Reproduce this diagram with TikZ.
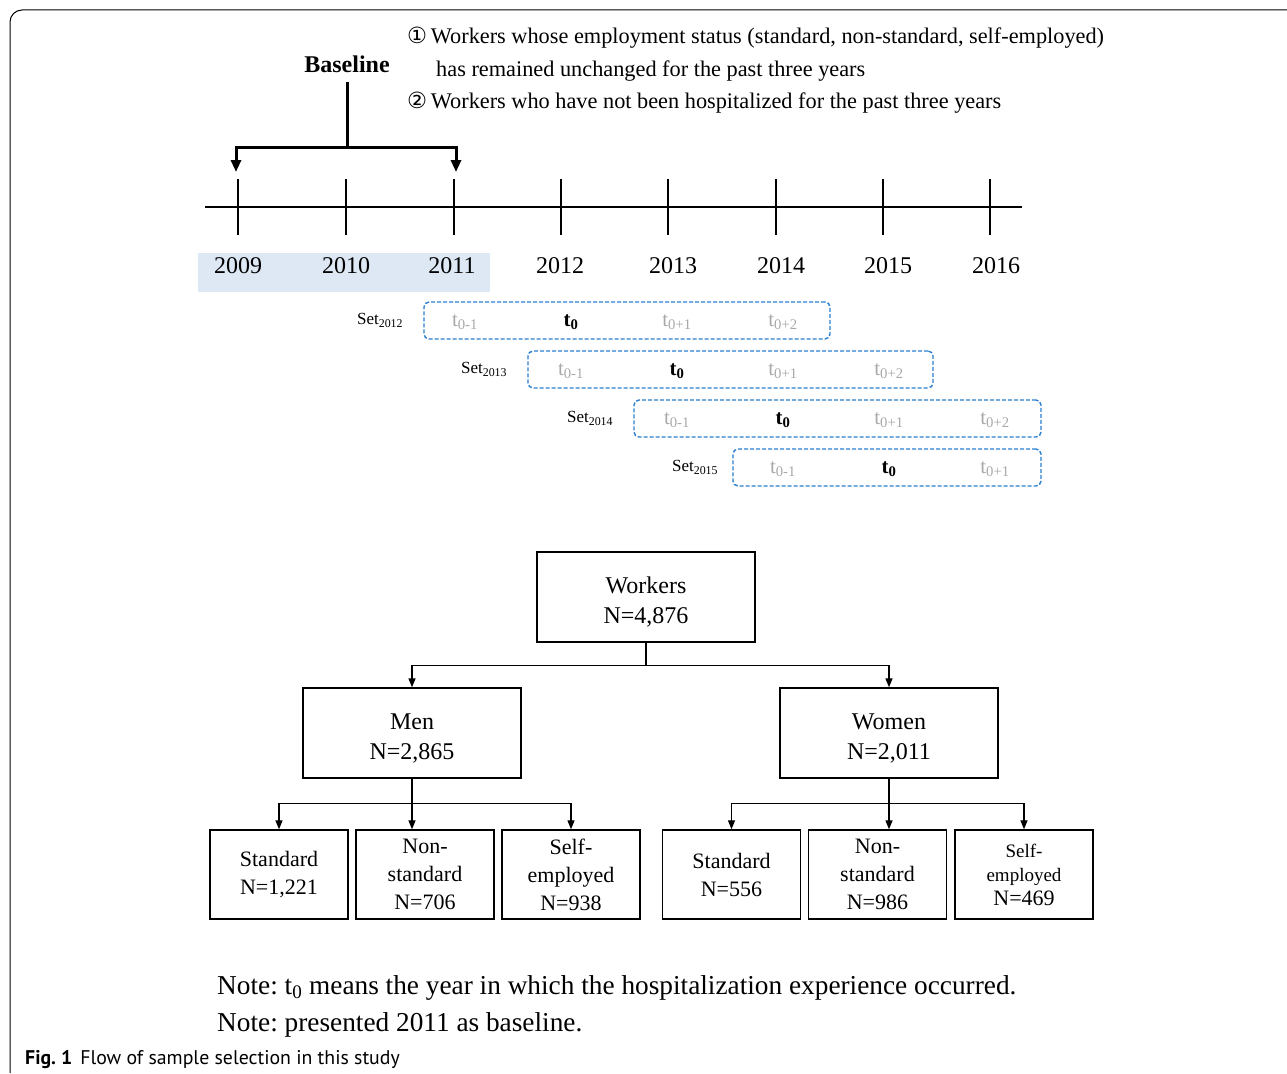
\documentclass[tikz,border=0pt]{standalone}
\usepackage{fontspec}
\setmainfont{Liberation Serif}
\newfontfamily\circfont{DejaVu Sans}
\newfontfamily\capfont{PT Sans}
\usetikzlibrary{arrows.meta, positioning}
\definecolor{shadeBlue}{HTML}{DDE8F4}
\definecolor{setBlue}{HTML}{2A7FD0}
\definecolor{tGrey}{HTML}{A8A8A8}
\frenchspacing
\tikzset{
    >={Triangle[length=9pt,width=7pt]},
    % Boxes
    flowBox/.style={rectangle, draw, line width=1.4pt, minimum width=218pt, minimum height=90pt,
                    align=center, font=\fontsize{24}{30}\selectfont},
    typeBox/.style={rectangle, draw, line width=1.4pt, minimum width=138pt, minimum height=89pt,
                    align=center, inner sep=1pt, font=\fontsize{22}{28}\selectfont},
    setBox/.style={draw=setBlue, dash pattern=on 4pt off 2pt, line width=1.4pt,
                   rounded corners=5pt, minimum height=37pt},
    % Texts
    yearLbl/.style={font=\fontsize{24}{28}\selectfont},
    setLbl/.style={font=\fontsize{17}{20}\selectfont, inner sep=2pt},
    tGreyLbl/.style={text=tGrey, font=\fontsize{21}{24}\selectfont},
    tBoldLbl/.style={font=\fontsize{21}{24}\selectfont\bfseries},
    critLbl/.style={anchor=base west, inner sep=0pt, font=\fontsize{22.3}{26}\selectfont},
    noteLbl/.style={anchor=base west, inner sep=0pt, font=\fontsize{27.3}{31}\selectfont},
    % Lines
    flow/.style={->, line width=1.3pt},
    baseFlow/.style={-{Triangle[length=12pt,width=10pt]}, line width=3pt}
}

\begin{document}
\begin{tikzpicture}[x=1pt, y=-1pt]
\useasboundingbox (0,0) rectangle (1287,1073);

% frame
\draw[line width=1pt, rounded corners=12pt] (1287,10) -- (10,10) -- (10,1073);

% criteria
\node[critLbl] (crit1) at (407,44) {{\circfont ①}\,Workers whose employment status (standard, non-standard, self-employed)};
\node[critLbl] (crit1b) at (436,76) {has remained unchanged for the past three years};
\node[critLbl] (crit2) at (407,108) {{\circfont ②}\,Workers who have not been hospitalized for the past three years};

% baseline
\node[font=\fontsize{24}{28}\selectfont\bfseries] (base) at (347,64) {Baseline};
\coordinate (split) at (347,147);
\coordinate (arrL) at (236,172);
\coordinate (arrR) at (456,172);
\draw[line width=3pt, shorten <=6pt] (base.south) -- (split);
\draw[baseFlow] (split) -| (arrL);
\draw[baseFlow] (split) -| (arrR);

% timeline
\fill[shadeBlue] (198,253) rectangle (490,292);
\draw[line width=1.6pt] (205,207) -- (1022,207);
\foreach \x in {238,346,454,561,668,776,883,990}
    \draw[line width=1.3pt] (\x,179) -- (\x,235);
\node[yearLbl] (y2009) at (238,266) {2009};
\node[yearLbl] (y2010) at (346,266) {2010};
\node[yearLbl] (y2011) at (452,266) {2011};
\node[yearLbl] (y2012) at (560,266) {2012};
\node[yearLbl] (y2013) at (673,266) {2013};
\node[yearLbl] (y2014) at (781,266) {2014};
\node[yearLbl] (y2015) at (888,266) {2015};
\node[yearLbl] (y2016) at (996,266) {2016};

% sets
\node[setBox, minimum width=406pt] (set12) at (627,320.5) {};
\node[setBox, minimum width=405pt] (set13) at (730.5,369.5) {};
\node[setBox, minimum width=407pt] (set14) at (837.5,418.5) {};
\node[setBox, minimum width=308pt] (set15) at (887,467.5) {};
\node[setLbl, left=18pt of set12] (lbl12) {Set\textsubscript{2012}};
\node[setLbl, left=18pt of set13] (lbl13) {Set\textsubscript{2013}};
\node[setLbl, left=18pt of set14] (lbl14) {Set\textsubscript{2014}};
\node[setLbl, left=12pt of set15] (lbl15) {Set\textsubscript{2015}};

\node[tGreyLbl] (s12a) at (465,322) {t\textsubscript{0-1}};
\node[tBoldLbl] (s12b) at (571,322) {t\textsubscript{0}};
\node[tGreyLbl] (s12c) at (677,322) {t\textsubscript{0+1}};
\node[tGreyLbl] (s12d) at (783,322) {t\textsubscript{0+2}};

\node[tGreyLbl] (s13a) at (571,371) {t\textsubscript{0-1}};
\node[tBoldLbl] (s13b) at (677,371) {t\textsubscript{0}};
\node[tGreyLbl] (s13c) at (783,371) {t\textsubscript{0+1}};
\node[tGreyLbl] (s13d) at (889,371) {t\textsubscript{0+2}};

\node[tGreyLbl] (s14a) at (677,420) {t\textsubscript{0-1}};
\node[tBoldLbl] (s14b) at (783,420) {t\textsubscript{0}};
\node[tGreyLbl] (s14c) at (889,420) {t\textsubscript{0+1}};
\node[tGreyLbl] (s14d) at (995,420) {t\textsubscript{0+2}};

\node[tGreyLbl] (s15a) at (783,469) {t\textsubscript{0-1}};
\node[tBoldLbl] (s15b) at (889,469) {t\textsubscript{0}};
\node[tGreyLbl] (s15c) at (995,469) {t\textsubscript{0+1}};

% flow of sample
\node[flowBox] (workers) at (646,597) {\rule{0pt}{26pt}Workers\\N=4,876};
\node[flowBox] (men) at (412,733) {\rule{0pt}{26pt}Men\\N=2,865};
\node[flowBox] (women) at (889,733) {\rule{0pt}{26pt}Women\\N=2,011};

\node[typeBox] (mStd) at (279,874.5) {Standard\\N=1,221};
\node[typeBox] (mNon) at (425,874.5) {Non-\\standard\\N=706};
\node[typeBox] (mSelf) at (571,874.5) {Self-\\employed\\N=938};
\node[typeBox] (wStd) at (731.5,874.5) {Standard\\N=556};
\node[typeBox] (wNon) at (877.5,874.5) {Non-\\standard\\N=986};
\node[typeBox, font=\fontsize{19}{24}\selectfont] (wSelf) at (1024,874.5) {Self-\\employed\\{\fontsize{22}{26}\selectfont N=469}};

\draw[flow] (workers.south) -- ++(0,23) -| (men.north);
\draw[flow] (workers.south) -- ++(0,23) -| (women.north);
\draw[flow] (men.south) -- ++(0,25) -| (mStd.north);
\draw[flow] (men.south) -- ++(0,25) -| (mSelf.north);
\draw[flow] (men.south) -- (men.south |- mNon.north);
\draw[flow] (women.south) -- ++(0,25) -| (wStd.north);
\draw[flow] (women.south) -- ++(0,25) -| (wSelf.north);
\draw[flow] (women.south) -- (women.south |- wNon.north);

% notes
\node[noteLbl] (note1) at (217,994) {Note: t\textsubscript{0} means the year in which the hospitalization experience occurred.};
\node[noteLbl] (note2) at (217,1031) {Note: presented 2011 as baseline.};

% caption
\node[anchor=base west, inner sep=0pt, font=\capfont\fontsize{19.8}{22}\selectfont] (cap) at (25,1064)
    {\textbf{Fig. 1}\hspace{8pt}Flow of sample selection in this study};
\end{tikzpicture}
\end{document}
